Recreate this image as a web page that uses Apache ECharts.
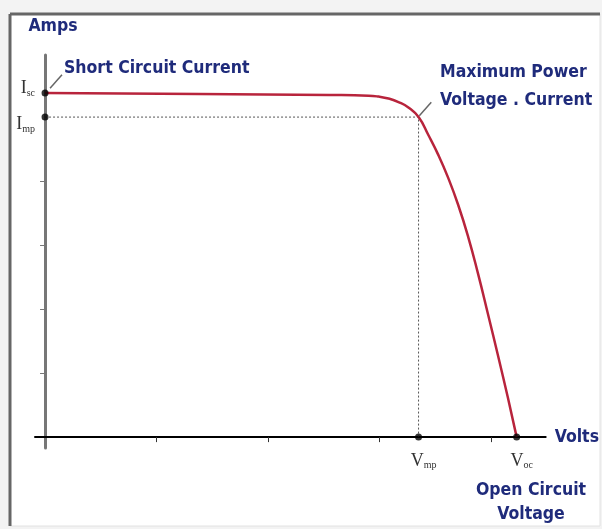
<!DOCTYPE html>
<html>
<head>
<meta charset="utf-8">
<script src="https://cdn.jsdelivr.net/npm/echarts@6/dist/echarts.min.js"></script>
<style>
  html, body { margin: 0; padding: 0; background: #f3f3f3; }
  #chart { width: 602px; height: 529px; }
</style>
</head>
<body>
<div id="chart"></div>
<script>
// I-V curve of a solar cell (arbitrary units)
const voltage = [0, 1.38, 2.55, 2.902, 2.991, 3.080, 3.170, 3.259, 3.35, 3.438, 3.527, 3.616, 3.705, 3.795, 3.884, 3.973, 4.063, 4.152, 4.23]
const current = [5.375, 5.36, 5.345, 5.335, 5.32, 5.29, 5.235, 5.15, 5.0, 4.72, 4.41, 4.05, 3.63, 3.13, 2.55, 1.92, 1.27, 0.61, 0]

const ISC = 5.375
const IMP = 5.0
const VMP = 3.35
const VOC = 4.23

const xTicks = [1, 2, 3, 4]
const yTicks = [1, 2, 3, 4]
const yTickLabels = [IMP, ISC]
const xTickLabels = [VMP, VOC]

const navy = '#1f2b7b'
const font = 'DejaVu Sans Condensed'

var myChart = echarts.init(document.getElementById('chart'))

let option = {
  backgroundColor: '#f3f3f3',
  animation: false,
  graphic: [
    // 外框
    {
      type: 'rect',
      shape: { x: 10, y: 14, width: 590, height: 512 },
      style: { fill: '#fff', stroke: '#e2e2e2', lineWidth: 1 },
      z: -10
    },
    { type: 'line', shape: { x1: 10, y1: 14, x2: 600, y2: 14 }, style: { stroke: '#666', lineWidth: 3 }, z: -9 },
    { type: 'line', shape: { x1: 10, y1: 14, x2: 10, y2: 526 }, style: { stroke: '#666', lineWidth: 3 }, z: -9 },
    {
      type: 'text',
      x: 64,
      y: 59,
      style: { text: 'Short Circuit Current', fill: navy, font: 'bold 17.5px ' + font }
    },
    {
      type: 'text',
      x: 440,
      y: 58,
      style: { text: 'Maximum Power\nVoltage . Current', fill: navy, font: 'bold 17.5px ' + font, lineHeight: 28 }
    },
    {
      type: 'text',
      x: 531,
      y: 478,
      style: { text: 'Open Circuit\nVoltage', fill: navy, font: 'bold 17.5px ' + font, lineHeight: 24, align: 'center' }
    }
  ],
  grid: {
    left: 35,
    right: 54,
    top: 55,
    bottom: 81
  },
  xAxis: {
    type: 'value',
    min: -0.09,
    max: 4.49,
    name: 'Volts',
    nameLocation: 'end',
    nameGap: 9,
    nameTextStyle: { color: navy, fontFamily: font, fontWeight: 'bold', fontSize: 17.5 },
    axisLine: { onZero: true, lineStyle: { color: '#000', width: 2 } },
    axisTick: { show: true, customValues: xTicks, length: 5, lineStyle: { color: '#333', width: 1 } },
    axisLabel: {
      customValues: xTickLabels,
      margin: 4,
      formatter: v => (v === VMP ? '{v|V}{s|mp}' : '{v|V}{s|oc}'),
      rich: {
        v: { fontFamily: 'Liberation Serif', fontSize: 18, color: '#333', padding: [0, 0, 0, 10] },
        s: { fontFamily: 'Liberation Serif', fontSize: 10, color: '#333', padding: [8, 0, 0, 0] }
      }
    },
    splitLine: { show: false }
  },
  yAxis: {
    type: 'value',
    min: -0.17,
    max: 5.97,
    name: 'Amps',
    nameLocation: 'end',
    nameGap: 20,
    nameTextStyle: { color: navy, fontFamily: font, fontWeight: 'bold', fontSize: 17.5, padding: [0, 0, 0, 16] },
    axisLine: { onZero: true, lineStyle: { color: '#777', width: 3 } },
    axisTick: { show: true, customValues: yTicks, length: 5, lineStyle: { color: '#777', width: 1 } },
    axisLabel: {
      customValues: yTickLabels,
      margin: 0,
      formatter: v => (v === ISC ? '{a|I}{b|sc}' : '{c|I}{d|mp}'),
      rich: {
        a: { fontFamily: 'Liberation Serif', fontSize: 18, color: '#333', padding: [0, 0, 10, 0] },
        b: { fontFamily: 'Liberation Serif', fontSize: 10, color: '#333', padding: [0, 0, 0, 0] },
        c: { fontFamily: 'Liberation Serif', fontSize: 18, color: '#333', padding: [14, 0, 0, 0] },
        d: { fontFamily: 'Liberation Serif', fontSize: 10, color: '#333', padding: [24, 0, 0, 0] }
      }
    },
    splitLine: { show: false }
  },
  series: [
    {
      // 虚线辅助线
      type: 'line',
      data: [[0, IMP], [VMP, IMP], [VMP, 0]],
      symbol: 'none',
      lineStyle: { color: '#555', width: 1, type: [2, 2] },
      z: 1
    },
    {
      type: 'line',
      data: voltage.map((v, i) => [v, current[i]]),
      smooth: 0.5,
      symbol: 'none',
      lineStyle: { color: '#b8243c', width: 2.5 },
      z: 3
    },
    {
      // 标注引线
      type: 'line',
      data: [[0.045, 5.45], [0.152, 5.66]],
      symbol: 'none',
      lineStyle: { color: '#666', width: 1.5 },
      z: 2
    },
    {
      type: 'line',
      data: [[3.357, 5.02], [3.464, 5.23]],
      symbol: 'none',
      lineStyle: { color: '#666', width: 1.5 },
      z: 2
    },
    {
      type: 'scatter',
      data: [[0, ISC], [0, IMP], [VMP, 0], [VOC, 0]],
      symbolSize: 7,
      itemStyle: { color: '#000' },
      z: 5
    }
  ]
}

myChart.setOption(option)
</script>
</body>
</html>
